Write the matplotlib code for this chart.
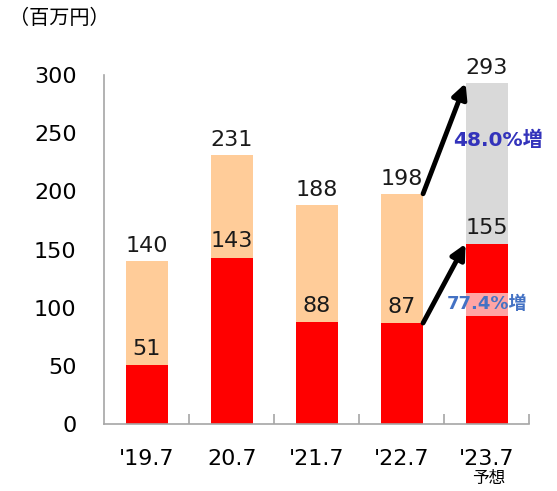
import matplotlib
matplotlib.use("Agg")
import matplotlib.pyplot as plt
import numpy as np

plt.rcParams['font.family'] = ['DejaVu Sans', 'Noto Sans CJK JP']

categories = ["'19.7", "20.7", "'21.7", "'22.7", "'23.7"]
lower_values = [51, 143, 88, 87, 155]
totals = [140, 231, 188, 198, 293]
growth_labels = ["77.4%増", "48.0%増"]
y_ticks = [0, 50, 100, 150, 200, 250, 300]

upper_colors = ['#FFCC99'] * 4 + ['#D9D9D9']

fig = plt.figure(figsize=(5.57, 4.91), dpi=100)
ax = fig.add_axes([0.1873, 0.1358, 0.763, 0.7115])

x = np.arange(len(categories))
w = 0.5
upper = [t - l for t, l in zip(totals, lower_values)]
ax.bar(x, lower_values, width=w, color='#FF0000', zorder=2)
ax.bar(x, upper, bottom=lower_values, width=w, color=upper_colors, zorder=2)

for xi, lv, tv in zip(x, lower_values, totals):
    ax.text(xi, lv + 14, str(lv), ha='center', va='center', fontsize=16, color='#1a1a1a', zorder=4)
    ax.text(xi, tv + 13, str(tv), ha='center', va='center', fontsize=16, color='#1a1a1a', zorder=4)

ax.set_xlim(-0.5, 4.5)
ax.set_ylim(0, 300)
ax.set_yticks(y_ticks)
ax.tick_params(axis='y', length=0, pad=20, labelsize=16)
ax.set_yticks([0, 300], minor=True)
ax.tick_params(axis='y', which='minor', direction='in', length=8, color='#A6A6A6', width=1.2)
ax.set_xticks(x)
ax.set_xticklabels(categories, fontsize=16)
ax.tick_params(axis='x', length=0, pad=18)
ax.set_xticks(np.arange(0.5, 5, 1.0), minor=True)
ax.tick_params(axis='x', which='minor', direction='in', length=7, color='#A6A6A6', width=1.2)
for s in ['top', 'right']:
    ax.spines[s].set_visible(False)
for s in ['left', 'bottom']:
    ax.spines[s].set_color('#A6A6A6')
    ax.spines[s].set_linewidth(1.2)

# arrows
ax.annotate('', xy=(4 - w / 2, lower_values[4]), xytext=(3 + w / 2, lower_values[3]),
            arrowprops=dict(arrowstyle='-|>', lw=3.5, color='black', mutation_scale=22,
                            shrinkA=0, shrinkB=0), zorder=5)
ax.annotate('', xy=(4 - w / 2, totals[4]), xytext=(3 + w / 2, totals[3]),
            arrowprops=dict(arrowstyle='-|>', lw=3.5, color='black', mutation_scale=22,
                            shrinkA=0, shrinkB=0), zorder=5)

ax.text(4.0, 103, growth_labels[0], ha='center', va='center', fontsize=13, fontweight='bold',
        color='#4472C4', family=['DejaVu Sans', 'Noto Sans CJK JP'],
        bbox=dict(facecolor='white', alpha=0.65, edgecolor='none', pad=2), zorder=6)
ax.text(4.13, 244, growth_labels[1], ha='center', va='center', fontsize=14.5, fontweight='bold',
        color='#3333BB', family=['DejaVu Sans', 'Noto Sans CJK JP'], zorder=6)

fig.text(0.016, 0.963, '（百万円）', fontsize=14.5, ha='left', va='center',
         family=['Noto Sans CJK JP'])
fig.text(0.877, 0.026, '予想', fontsize=12, ha='center', va='center',
         family=['Noto Sans CJK JP'])

fig.savefig('out.png', dpi=100)
